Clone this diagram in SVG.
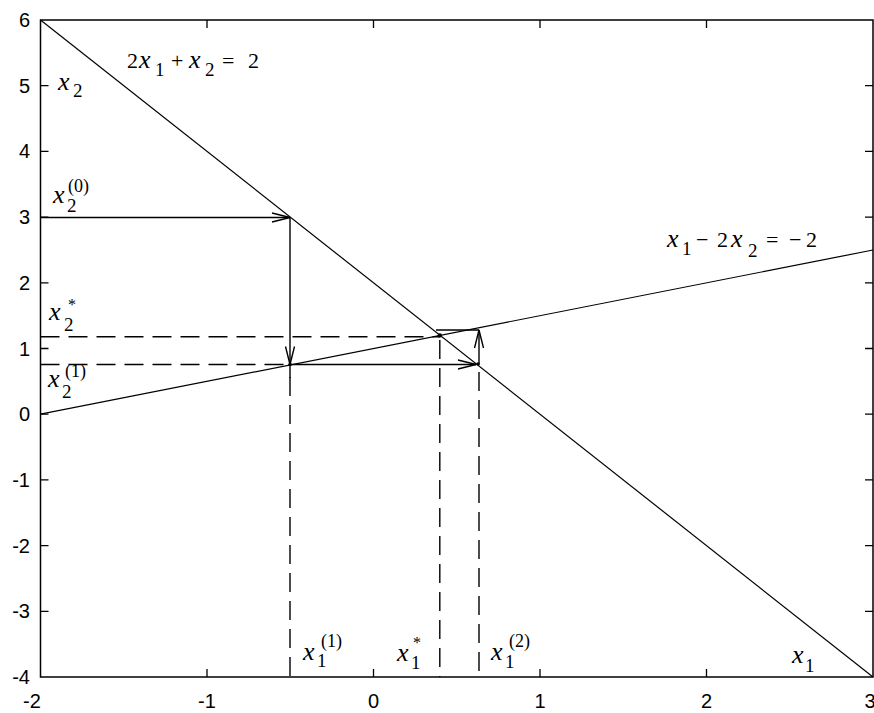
<svg xmlns="http://www.w3.org/2000/svg" width="874" height="713" viewBox="0 0 874 713">
<style>
.ax{fill:none;stroke:#000;stroke-width:1.5}
.tk{stroke:#000;stroke-width:1.3}
.ln{fill:none;stroke:#000;stroke-width:1.2}
.ar{fill:none;stroke:#000;stroke-width:1.4}
.da{fill:none;stroke:#000;stroke-width:1.4;stroke-dasharray:19 9}
.tl{font-family:"Liberation Sans",Arial,sans-serif;font-size:20px;fill:#000}
.m{font-family:"Liberation Serif","Times New Roman",serif;font-size:22px;fill:#000}
.v{font-style:italic;font-size:26px}
.s{font-size:19px}
.p{font-size:18px}
.st{font-size:16px}
</style>
<defs>
<marker id="ah" markerUnits="userSpaceOnUse" markerWidth="24" markerHeight="12" viewBox="-20 -6 22 12" refX="0" refY="0" orient="auto">
<path d="M-18,-4.5 L0,0 L-18,4.5" fill="none" stroke="#000" stroke-width="1.4"/>
</marker>
</defs>
<rect width="874" height="713" fill="#fff"/>
<g id="axes">
<rect class="ax" x="40.5" y="20" width="832.5" height="657"/>
<g class="tk">
<path d="M207,677v-8M373.5,677v-8M540,677v-8M706.5,677v-8M207,20v8M373.5,20v8M540,20v8M706.5,20v8"/>
<path d="M40.5,85.7h8M40.5,151.4h8M40.5,217.1h8M40.5,282.8h8M40.5,348.5h8M40.5,414.2h8M40.5,479.9h8M40.5,545.6h8M40.5,611.3h8"/>
<path d="M873,85.7h-8M873,151.4h-8M873,217.1h-8M873,282.8h-8M873,348.5h-8M873,414.2h-8M873,479.9h-8M873,545.6h-8M873,611.3h-8"/>
</g>
<g class="tl" text-anchor="end">
<text x="30" y="27">6</text>
<text x="30" y="93">5</text>
<text x="30" y="158">4</text>
<text x="30" y="224">3</text>
<text x="30" y="290">2</text>
<text x="30" y="356">1</text>
<text x="30" y="421">0</text>
<text x="30" y="487">-1</text>
<text x="30" y="553">-2</text>
<text x="30" y="618">-3</text>
<text x="30" y="684">-4</text>
</g>
<g class="tl" text-anchor="middle">
<text x="32" y="708">-2</text>
<text x="207" y="708">-1</text>
<text x="373.5" y="708">0</text>
<text x="540" y="708">1</text>
<text x="706.5" y="708">2</text>
<text x="870" y="708">3</text>
</g>
</g>
<g id="lines">
<path id="line1" class="ln" d="M40.5,20 L873,677"/>
<path id="line2" class="ln" d="M40.5,414.2 L873,250"/>
</g>
<g id="connectors">
<path class="da" d="M40.5,336.7 H439.8"/>
<path class="da" d="M40.5,364.5 H290"/>
<path class="da" d="M290,377 V677"/>
<path class="da" d="M439.8,340 V677"/>
<path class="da" d="M479,372 V677"/>
<path class="ar" d="M40.5,217.5 H290" marker-end="url(#ah)"/>
<path class="ar" d="M290,217.5 V364.5" marker-end="url(#ah)"/>
<path class="ar" d="M290,378 V364.5"/>
<path class="ar" d="M290,364.5 H476" marker-end="url(#ah)"/>
<path class="ar" d="M479,364.5 V330" marker-end="url(#ah)"/>
<path class="ar" d="M436,330 H479"/>
<circle cx="439.8" cy="335.4" r="2.2" fill="#000"/>
<circle cx="290" cy="364.5" r="1.8" fill="#000"/>
<circle cx="478" cy="364" r="1.8" fill="#000"/>
</g>
<g id="label-eq1" class="m">
<text x="127" y="68">2</text>
<text x="139" y="68" class="v">x</text>
<text x="155" y="76" class="s">1</text>
<text x="171" y="68">+</text>
<text x="189" y="68" class="v">x</text>
<text x="205" y="76" class="s">2</text>
<text x="222" y="68">=</text>
<text x="248" y="68">2</text>
</g>
<g id="label-eq2" class="m">
<text x="667" y="247" class="v">x</text>
<text x="682" y="255" class="s">1</text>
<text x="696" y="247">−</text>
<text x="717" y="247">2</text>
<text x="731" y="247" class="v">x</text>
<text x="748" y="257" class="s">2</text>
<text x="766" y="247">=</text>
<text x="789" y="247">−</text>
<text x="806" y="247">2</text>
</g>
<g id="label-x2" class="m">
<text x="58" y="90" class="v">x</text>
<text x="73" y="97" class="s">2</text>
</g>
<g id="label-x2-0" class="m">
<text x="53" y="203" class="v">x</text>
<text x="67" y="212" class="s">2</text>
<text x="68" y="192" class="p">(0)</text>
</g>
<g id="label-x2-star" class="m">
<text x="49" y="320" class="v">x</text>
<text x="64" y="331" class="s">2</text>
<text x="68" y="310" class="st">*</text>
</g>
<g id="label-x2-1" class="m">
<text x="48" y="387" class="v">x</text>
<text x="62" y="398" class="s">2</text>
<text x="65" y="377" class="p">(1)</text>
</g>
<g id="label-x1-1" class="m">
<text x="303" y="660" class="v">x</text>
<text x="317" y="667" class="s">1</text>
<text x="321" y="647" class="p">(1)</text>
</g>
<g id="label-x1-star" class="m">
<text x="397" y="661" class="v">x</text>
<text x="411" y="669" class="s">1</text>
<text x="413" y="648" class="st">*</text>
</g>
<g id="label-x1-2" class="m">
<text x="491" y="660" class="v">x</text>
<text x="505" y="668" class="s">1</text>
<text x="509" y="647" class="p">(2)</text>
</g>
<g id="label-x1" class="m">
<text x="792" y="663" class="v">x</text>
<text x="805" y="672" class="s">1</text>
</g>
</svg>
